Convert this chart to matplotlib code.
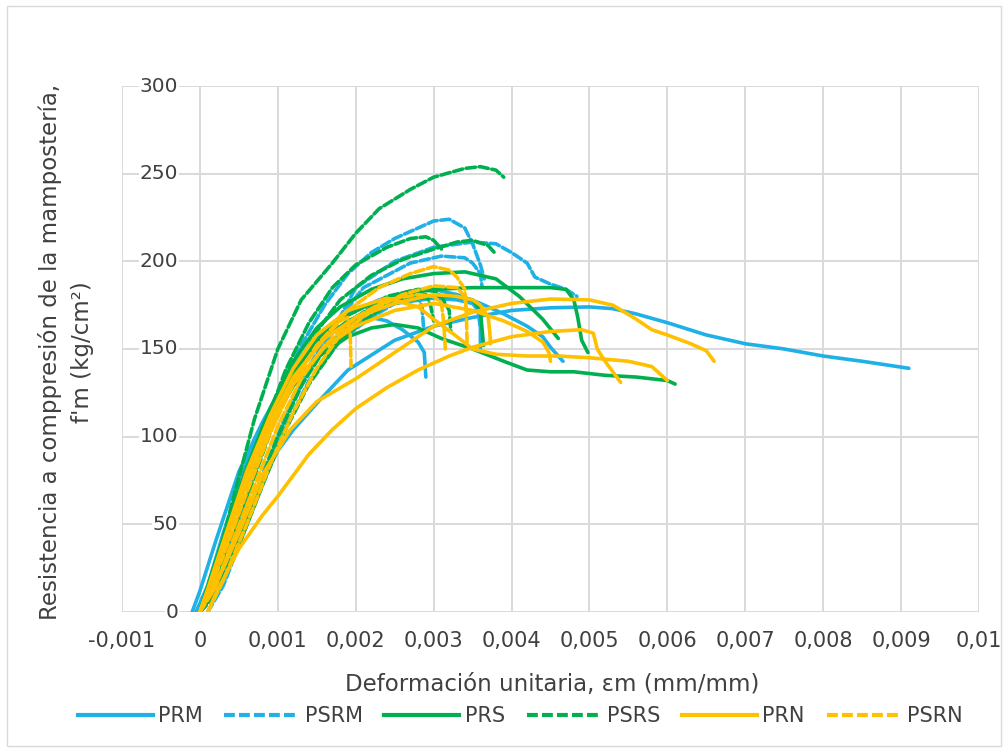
import matplotlib
matplotlib.use("Agg")
import matplotlib.pyplot as plt
from matplotlib.lines import Line2D
from matplotlib.patches import Rectangle

plt.rcParams['font.family'] = ['DejaVu Sans']

# ---- stress-strain data (strain in mm/mm, stress in kg/cm2) ----
prm_strain = [
    [-0.00005, 0.0001, 0.0003, 0.0005, 0.0008, 0.001, 0.0012, 0.0015, 0.0019, 0.0025, 0.003, 0.0035,
     0.004, 0.0045, 0.005, 0.0053, 0.0056, 0.006, 0.0065, 0.007, 0.0075, 0.008, 0.0085, 0.0091],
    [-0.0001, 0.0, 0.0002, 0.0005, 0.0008, 0.0011, 0.0014, 0.0017, 0.002, 0.0022, 0.0024, 0.0026,
     0.0028, 0.00288, 0.0029],
    [-0.00005, 0.0001, 0.0003, 0.0006, 0.0009, 0.0012, 0.0015, 0.0019, 0.0023, 0.0027, 0.003, 0.0033,
     0.0036, 0.0039, 0.0042, 0.0044, 0.0045, 0.00466],
    [0.0, 0.0001, 0.0003, 0.0006, 0.0009, 0.0012, 0.0016, 0.002, 0.0025, 0.003, 0.0033, 0.0035,
     0.00357, 0.0036, 0.0036],
]
prm_stress = [
    [0, 12, 32, 50, 75, 92, 104, 119, 138, 155, 163, 168,
     172, 173.5, 174, 173, 170, 165, 158, 153, 150, 146, 143, 139],
    [0, 12, 40, 80, 108, 132, 150, 161, 166, 168, 166, 161,
     154, 148, 134],
    [0, 15, 45, 85, 115, 140, 157, 170, 178, 183, 184, 181,
     176, 170, 163, 157, 151, 143],
    [0, 12, 38, 78, 108, 134, 156, 168, 176, 179, 178, 176,
     172, 162, 150],
]

psrm_strain = [
    [0.0, 0.0002, 0.0004, 0.0006, 0.0008, 0.001, 0.0013, 0.0016, 0.0019, 0.0022, 0.0025, 0.0028,
     0.003, 0.0032, 0.0034, 0.0035, 0.0036, 0.00365],
    [0.0, 0.0002, 0.0005, 0.0008, 0.0011, 0.0014, 0.0017, 0.002, 0.0025, 0.003, 0.0035, 0.0038,
     0.004, 0.0042, 0.0043, 0.0045, 0.0047, 0.00484],
    [0.0, 0.0002, 0.0005, 0.0008, 0.0011, 0.0014, 0.0017, 0.0021, 0.0027, 0.0031, 0.0034, 0.0035,
     0.0036, 0.00362],
    [0.0001, 0.0003, 0.0005, 0.0008, 0.0011, 0.0014, 0.0018, 0.0022, 0.0025, 0.0028, 0.00285,
     0.00287],
]
psrm_stress = [
    [0, 12, 35, 65, 95, 122, 152, 175, 193, 205, 213, 219,
     223, 224, 219, 210, 198, 190],
    [0, 10, 40, 75, 110, 138, 160, 185, 200, 208, 211, 210,
     205, 199, 191, 187, 184, 180],
    [0, 10, 40, 78, 112, 140, 162, 185, 199, 203, 202, 199,
     193, 186],
    [0, 15, 38, 72, 105, 132, 155, 168, 176, 180, 174, 163],
]

prs_strain = [
    [0.0, 0.0001, 0.0003, 0.0006, 0.0009, 0.0012, 0.0015, 0.0019, 0.0022, 0.0025, 0.0028, 0.0031,
     0.0035, 0.0039, 0.0042, 0.0045, 0.0048, 0.0052, 0.0056, 0.006, 0.0061],
    [0.0, 0.0001, 0.0003, 0.0006, 0.0009, 0.0012, 0.0015, 0.0018, 0.0022, 0.0026, 0.003, 0.0035,
     0.004, 0.0045, 0.0047, 0.0048, 0.00485, 0.0049, 0.00498],
    [0.0, 0.0001, 0.0003, 0.0006, 0.0009, 0.0012, 0.0015, 0.0018, 0.0022, 0.0026, 0.003, 0.0034,
     0.0038, 0.0041, 0.0044, 0.0046],
    [0.0, 0.0001, 0.0003, 0.0006, 0.0009, 0.0012, 0.0015, 0.0019, 0.0023, 0.0027, 0.003, 0.0033,
     0.0035, 0.0036, 0.00362, 0.00364],
]
prs_stress = [
    [0, 12, 38, 75, 106, 129, 145, 157, 162, 164, 162, 156,
     150, 143, 138, 137, 137, 135, 134, 132, 130],
    [0, 15, 42, 80, 112, 138, 155, 167, 176, 181, 184, 185,
     185, 185, 184, 178, 168, 155, 148],
    [0, 14, 42, 82, 116, 143, 162, 174, 184, 190, 193, 194,
     190, 180, 167, 156],
    [0, 13, 40, 78, 110, 135, 153, 166, 174, 178, 180, 180,
     178, 172, 162, 152],
]

psrs_strain = [
    [0.0, 0.0001, 0.0002, 0.0004, 0.0007, 0.001, 0.0013, 0.0017, 0.002, 0.0023, 0.0027, 0.003,
     0.0034, 0.0036, 0.0038, 0.0039],
    [0.0, 0.0001, 0.0003, 0.0005, 0.0008, 0.0011, 0.0014, 0.0017, 0.002, 0.0024, 0.0027, 0.0029,
     0.003, 0.0031],
    [0.0, 0.0001, 0.0003, 0.0006, 0.0009, 0.0012, 0.0015, 0.0018, 0.0022, 0.0026, 0.003, 0.0033,
     0.0035, 0.0037, 0.0038],
    [0.0, 0.0002, 0.0004, 0.0007, 0.001, 0.0013, 0.0016, 0.002, 0.0024, 0.0028, 0.003, 0.0031,
     0.0032, 0.00322],
    [0.0, 0.0002, 0.0005, 0.0008, 0.0011, 0.0014, 0.0018, 0.0021, 0.0024, 0.0027, 0.0029, 0.00296,
     0.003],
]
psrs_stress = [
    [0, 8, 25, 60, 110, 150, 178, 199, 216, 230, 241, 248,
     253, 254, 252, 248],
    [0, 10, 35, 62, 102, 138, 165, 185, 198, 208, 213, 214,
     212, 207],
    [0, 9, 30, 65, 102, 135, 160, 178, 192, 201, 207, 211,
     212, 209, 204],
    [0, 10, 30, 65, 100, 129, 150, 168, 180, 184, 183, 180,
     172, 160],
    [0, 10, 38, 72, 104, 130, 155, 166, 175, 180, 181, 175,
     166],
]

prn_strain = [
    [0.0001, 0.0002, 0.0005, 0.0008, 0.001, 0.0014, 0.0017, 0.002, 0.0024, 0.0028, 0.0032, 0.0035,
     0.004, 0.0045, 0.0049, 0.00505, 0.0051, 0.0052, 0.0053, 0.0054],
    [0.0, 0.0001, 0.0003, 0.0005, 0.0008, 0.00116, 0.0015, 0.002, 0.0025, 0.003, 0.0035, 0.004,
     0.0045, 0.005, 0.0053, 0.0056, 0.0058, 0.006, 0.0063, 0.0065, 0.0066],
    [0.0, 0.0001, 0.0003, 0.0006, 0.0009, 0.0012, 0.0016, 0.002, 0.0025, 0.003, 0.0033, 0.0035,
     0.0036, 0.0037, 0.00372, 0.00373],
    [0.0, 0.0001, 0.0003, 0.0006, 0.0009, 0.0012, 0.0016, 0.002, 0.0025, 0.003, 0.0035, 0.0039,
     0.0042, 0.0044, 0.00448, 0.0045],
    [0.0, 0.0001, 0.0003, 0.0006, 0.0009, 0.0012, 0.0015, 0.0019, 0.0024, 0.0028, 0.003, 0.0033,
     0.0035, 0.0038, 0.0042, 0.0046, 0.005, 0.0055, 0.0058, 0.006],
]
prn_stress = [
    [0, 10, 36, 55, 66, 90, 104, 116, 128, 138, 146, 151,
     157, 160, 161, 159, 150, 143, 137, 131],
    [0, 10, 25, 45, 78, 104, 120, 133, 148, 163, 171, 176,
     178.5, 178, 175, 167, 161, 158, 153, 149, 143],
    [0, 12, 38, 78, 108, 134, 156, 168, 176, 181, 180, 178,
     175, 168, 160, 153],
    [0, 12, 36, 75, 105, 130, 151, 163, 172, 176, 172, 166,
     160, 154, 148, 143],
    [0, 13, 40, 80, 112, 139, 158, 172, 179, 174, 167, 157,
     150, 147, 146, 146, 145, 143, 140, 132],
]

psrn_strain = [
    [0.0, 0.0001, 0.0003, 0.0006, 0.0009, 0.0012, 0.0015, 0.0019, 0.0023, 0.0027, 0.003, 0.0032,
     0.0033, 0.0034, 0.00342, 0.00343],
    [0.0, 0.0002, 0.0004, 0.0007, 0.001, 0.0013, 0.0016, 0.002, 0.0024, 0.0028, 0.003, 0.0031,
     0.00313, 0.00315],
    [0.0, 0.0001, 0.0003, 0.0006, 0.0009, 0.0012, 0.0015, 0.0018, 0.0019, 0.00193, 0.00194],
    [0.0001, 0.0003, 0.0006, 0.0009, 0.0012, 0.0015, 0.0018, 0.0022, 0.0026, 0.003, 0.0033,
     0.0034, 0.00342],
]
psrn_stress = [
    [0, 10, 32, 68, 102, 130, 152, 172, 185, 193, 197, 195,
     191, 184, 170, 152],
    [0, 14, 38, 72, 106, 133, 152, 168, 178, 181, 180, 176,
     165, 150],
    [0, 10, 35, 72, 105, 132, 152, 166, 168, 158, 140],
    [0, 18, 50, 84, 114, 139, 158, 172, 181, 186, 185, 180, 172],
]

series_names = ["PRM", "PSRM", "PRS", "PSRS", "PRN", "PSRN"]
series_strain = [prm_strain, psrm_strain, prs_strain, psrs_strain, prn_strain, psrn_strain]
series_stress = [prm_stress, psrm_stress, prs_stress, psrs_stress, prn_stress, psrn_stress]

x_ticks = [-0.001, 0.0, 0.001, 0.002, 0.003, 0.004, 0.005, 0.006, 0.007, 0.008, 0.009, 0.01]
x_tick_labels = ["-0,001", "0", "0,001", "0,002", "0,003", "0,004", "0,005",
                 "0,006", "0,007", "0,008", "0,009", "0,01"]
y_ticks = [0, 50, 100, 150, 200, 250, 300]

# ---- styles ----
BLUE = "#1FB0E6"
GREEN = "#00B050"
YELLOW = "#FFC000"
DASH = (0, (2.6, 1.0))
styles = {
    "PRM": dict(color=BLUE, linestyle="-"),
    "PSRM": dict(color=BLUE, linestyle=DASH),
    "PRS": dict(color=GREEN, linestyle="-"),
    "PSRS": dict(color=GREEN, linestyle=DASH),
    "PRN": dict(color=YELLOW, linestyle="-"),
    "PSRN": dict(color=YELLOW, linestyle=DASH),
}
LW = 2.6
GRID = "#D9D9D9"
TEXT = "#404040"

fig = plt.figure(figsize=(10.08, 7.51), dpi=100)
ax = fig.add_axes([122 / 1008, 1 - 612 / 751, (979 - 122) / 1008, (612 - 86) / 751])

ax.set_xlim(-0.001, 0.01)
ax.set_ylim(0, 300)
for s in ax.spines.values():
    s.set_visible(False)

# gridlines
for xv in x_ticks:
    ax.axvline(xv, color=GRID, lw=1.4, zorder=0)
for yv in y_ticks:
    ax.axhline(yv, color=GRID, lw=1.4, zorder=0)

# curves
for name, xs_list, ys_list in zip(series_names, series_strain, series_stress):
    st = styles[name]
    for xs, ys in zip(xs_list, ys_list):
        ax.plot(xs, ys, color=st["color"], linestyle=st["linestyle"], lw=LW,
                solid_capstyle="round", dash_capstyle="round", solid_joinstyle="round", zorder=2)

# x tick labels below the plot
ax.set_xticks(x_ticks)
ax.set_xticklabels(x_tick_labels, fontsize=15, color=TEXT)
ax.tick_params(axis="x", length=0, pad=14)

# value axis crosses at strain 0: its labels sit just left of it
ax.set_yticks([])
for yv in y_ticks:
    ax.text(-0.00028, yv, str(yv), ha="right", va="center", fontsize=14.5, color=TEXT,
            zorder=1, bbox=dict(facecolor="white", edgecolor="none", pad=0.5))

fig.text(552 / 1008, 1 - 685 / 751, "Deformación unitaria, εm (mm/mm)",
         ha="center", va="center", fontsize=16.5, color=TEXT)

fig.text(66 / 1008, 1 - 352 / 751,
         "Resistencia a comppresión de la mampostería,\nf'm (kg/cm²)",
         rotation=90, ha="center", va="center", multialignment="center",
         fontsize=16.5, color=TEXT, linespacing=1.45)

handles = [Line2D([0], [0], lw=LW + 0.4, **styles[n]) for n in series_names]
leg = fig.legend(handles, series_names, loc="center", bbox_to_anchor=(520 / 1008, 1 - 716 / 751),
                 ncol=6, frameon=False, fontsize=15, handlelength=3.6, handletextpad=0.25,
                 columnspacing=1.05, labelcolor=TEXT)

# chart border
fig.add_artist(Rectangle((7 / 1008, 1 - 746 / 751), 994 / 1008, 740 / 751,
                         transform=fig.transFigure, fill=False, edgecolor=GRID, lw=1.0))

fig.savefig("out.png", dpi=100)
